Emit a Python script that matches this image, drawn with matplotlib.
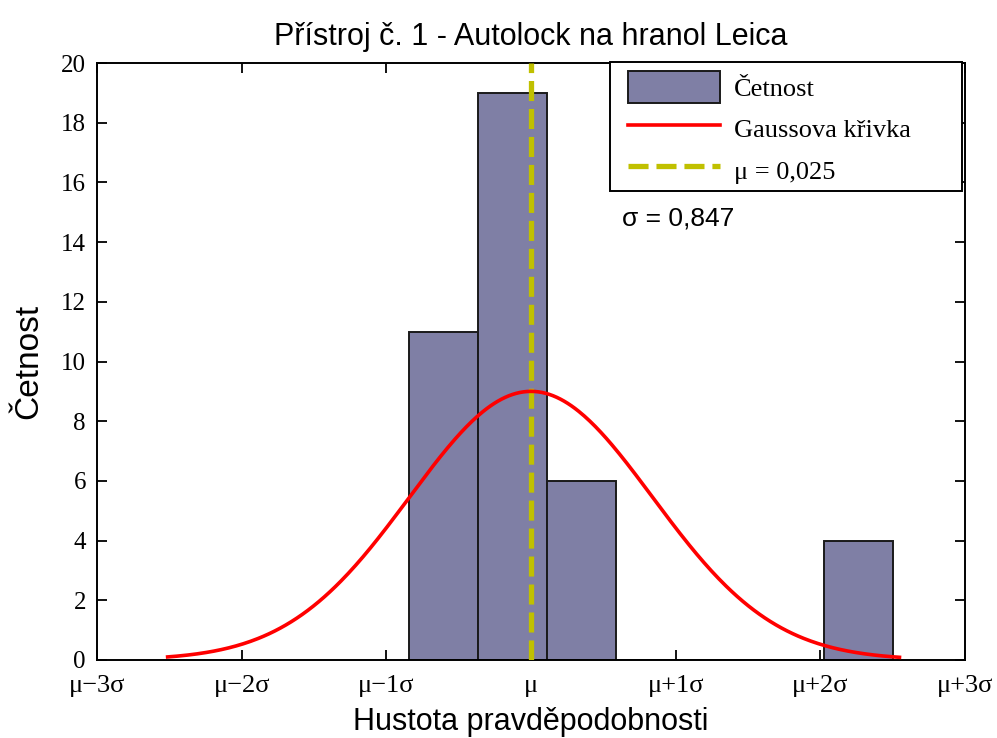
import numpy as np
import matplotlib
matplotlib.use("Agg")
import matplotlib.pyplot as plt
from matplotlib.patches import Patch, Rectangle
from matplotlib.lines import Line2D

# Statistics of the measurement set
mu = 0.025
sigma = 0.847

# Histogram bins (edges in measured units) and counts per bin
bin_edges = [-0.690, -0.285, 0.120, 0.525, 0.930, 1.335, 1.740, 2.145]
counts = [11, 19, 6, 0, 0, 0, 4]

# Fitted bell curve: peak height, width and the span over which it is drawn
gauss_peak = 9.0
gauss_width = 0.711
curve_min = -2.113
curve_max = 2.193

x_tick_labels = ["μ−3σ", "μ−2σ", "μ−1σ", "μ", "μ+1σ", "μ+2σ", "μ+3σ"]
y_ticks = list(range(0, 21, 2))

bar_color = "#7f7fa5"
edge_color = "#1a1a1a"
mu_color = "#c0c000"
mu_dash = (0, (3.8, 1.5))

fig = plt.figure(figsize=(9.97, 7.38), dpi=100)
ax = fig.add_axes([0.0973, 0.1057, 0.8706, 0.8089])

edges = np.array(bin_edges)
widths = np.diff(edges)
ax.bar(edges[:-1], counts, width=widths, align="edge", color=bar_color,
       edgecolor=edge_color, linewidth=1.4, zorder=2)

xc = np.linspace(curve_min, curve_max, 400)
yc = gauss_peak * np.exp(-0.5 * ((xc - mu) / gauss_width) ** 2)
ax.plot(xc, yc, color="#ff0000", linewidth=2.6, zorder=4, solid_capstyle="butt")

ax.axvline(mu, color=mu_color, linestyle=mu_dash, linewidth=3.8, zorder=3)

ax.set_xlim(mu - 3 * sigma, mu + 3 * sigma)
ax.set_ylim(0, 20)
ax.set_xticks([mu + k * sigma for k in range(-3, 4)])
ax.set_xticklabels(x_tick_labels, fontfamily="Liberation Serif", fontsize=19)
ax.set_yticks(y_ticks)
ax.set_yticklabels([str(v) for v in y_ticks], fontfamily="Liberation Serif", fontsize=18)
ax.tick_params(direction="in", top=True, right=True, length=7, width=1.3)
ax.tick_params(axis="x", pad=11)
ax.tick_params(axis="y", pad=8)
for s in ax.spines.values():
    s.set_linewidth(1.4)

ax.set_title("Přístroj č. 1 - Autolock na hranol Leica", fontfamily="Liberation Sans",
             fontsize=22, pad=13)
ax.set_xlabel("Hustota pravděpodobnosti", fontfamily="Liberation Sans", fontsize=22, labelpad=7)
ax.set_ylabel("Četnost", fontfamily="Liberation Sans", fontsize=24, labelpad=12)

# Legend box drawn separately so its frame can be wider than its contents
box = Rectangle((0.591, 0.7856), 0.4055, 0.2161, transform=ax.transAxes,
                facecolor="white", edgecolor="black", linewidth=1.4,
                clip_on=False, zorder=5)
ax.add_patch(box)

handles = [
    Patch(facecolor=bar_color, edgecolor=edge_color, linewidth=1.4),
    Line2D([0], [0], color="#ff0000", linewidth=2.6),
    Line2D([0], [0], color=mu_color, linestyle=mu_dash, linewidth=3.8),
]
labels = ["Četnost", "Gaussova křivka", "μ = 0,025"]
leg = ax.legend(handles, labels, loc="upper left", bbox_to_anchor=(0.6118, 0.9866),
                borderaxespad=0, borderpad=0, frameon=False,
                prop={"family": "Liberation Serif", "size": 19}, handlelength=3.5,
                handleheight=1.49, labelspacing=0.36, handletextpad=0.5)
leg.set_zorder(6)

ax.text(0.605, 0.740, "σ = 0,847", transform=ax.transAxes, fontfamily="Liberation Sans",
        fontsize=19, va="center", ha="left", zorder=6)

fig.savefig("out.png", dpi=100)
